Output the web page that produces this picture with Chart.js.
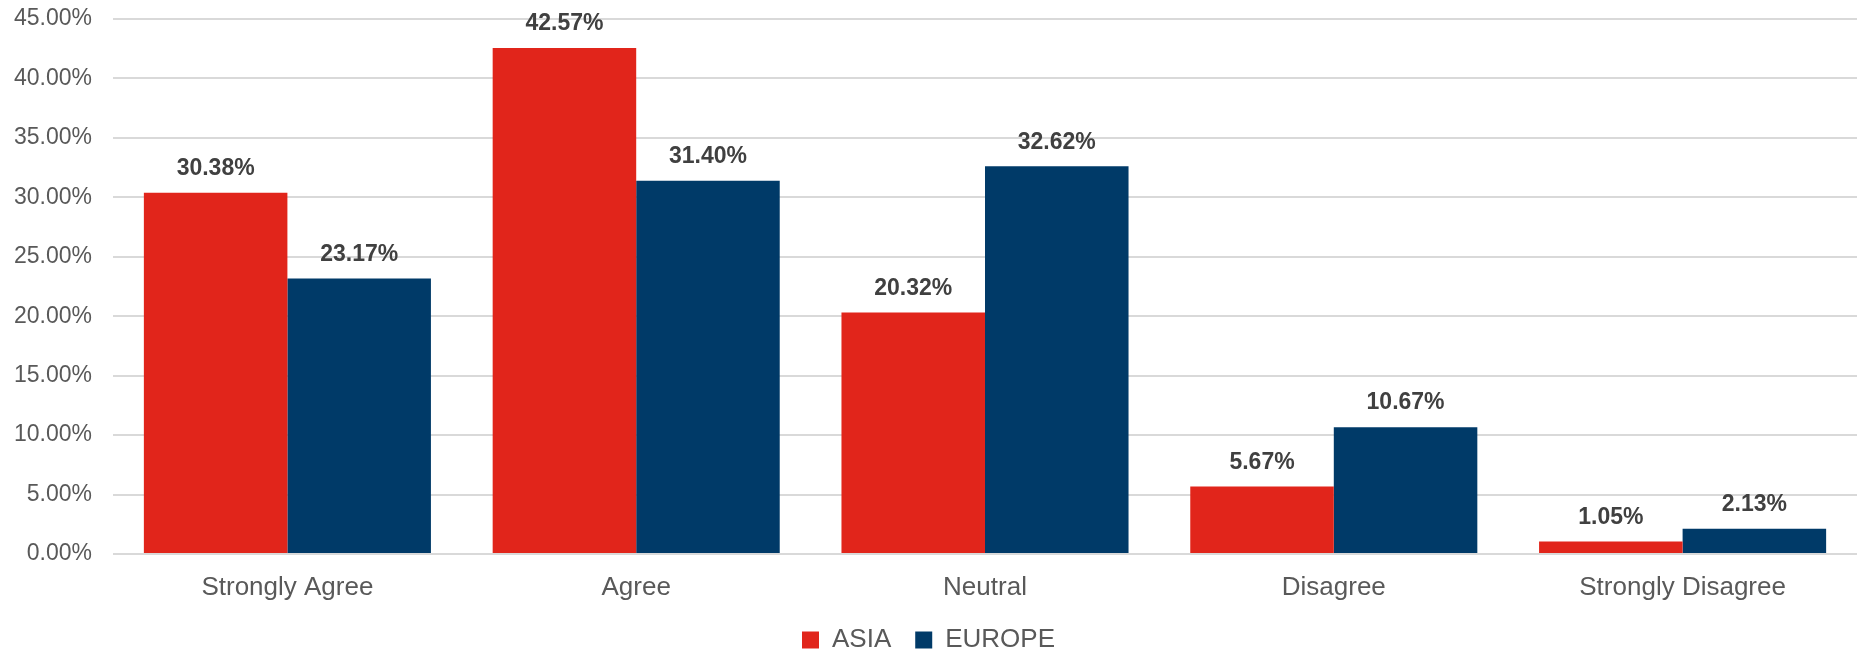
<!DOCTYPE html>
<html>
<head>
<meta charset="utf-8">
<script src="https://cdn.jsdelivr.net/npm/chart.js@4/dist/chart.umd.min.js"></script>
<style>
  html, body { margin: 0; padding: 0; background: #ffffff; }
  #wrap { width: 1861px; height: 654px; }
</style>
</head>
<body>
<div id="wrap"><canvas id="c" width="1861" height="654"></canvas></div>
<script>
const categories = ["Strongly Agree", "Agree", "Neutral", "Disagree", "Strongly Disagree"];
const asiaValues = [30.38, 42.57, 20.32, 5.67, 1.05];
const europeValues = [23.17, 31.40, 32.62, 10.67, 2.13];
const seriesNames = ["ASIA", "EUROPE"];
const yTickMax = 45;
const yTickStep = 5;

const FONT = "'Liberation Sans', Arial, sans-serif";

const valueLabels = {
  id: 'valueLabels',
  afterDatasetsDraw(chart) {
    const ctx = chart.ctx;
    ctx.save();
    ctx.font = "bold 23px " + FONT;
    ctx.fillStyle = "#404040";
    ctx.textAlign = "center";
    ctx.textBaseline = "middle";
    chart.data.datasets.forEach((ds, di) => {
      const meta = chart.getDatasetMeta(di);
      meta.data.forEach((bar, i) => {
        ctx.fillText(ds.data[i].toFixed(2) + "%", bar.x, bar.y - 24);
      });
    });
    ctx.restore();
  }
};

new Chart(document.getElementById('c'), {
  type: 'bar',
  data: {
    labels: categories,
    datasets: [
      { label: seriesNames[0], data: asiaValues, backgroundColor: '#E1251B', borderWidth: 0 },
      { label: seriesNames[1], data: europeValues, backgroundColor: '#003A68', borderWidth: 0 }
    ]
  },
  options: {
    responsive: false,
    animation: false,
    devicePixelRatio: 1,
    layout: { padding: { left: 0, right: 4, top: 19, bottom: -9 } },
    datasets: { bar: { categoryPercentage: 0.823, barPercentage: 1.0 } },
    scales: {
      x: {
        afterFit(scale) { scale.height = 49; },
        grid: { display: false, drawTicks: false },
        border: { display: false },
        ticks: { color: '#595959', font: { family: FONT, size: 26 }, padding: 18, maxRotation: 0 }
      },
      y: {
        min: 0, max: yTickMax,
        afterFit(scale) { scale.width = 113; scale.paddingTop = 0; scale.paddingBottom = 0; },
        grid: { color: '#d9d9d9', lineWidth: 2, drawTicks: false },
        border: { display: false },
        ticks: {
          stepSize: yTickStep,
          color: '#595959',
          font: { family: FONT, size: 23 },
          padding: 21,
          callback: v => Number(v).toFixed(2) + '%'
        }
      }
    },
    plugins: {
      legend: {
        position: 'bottom',
        labels: {
          color: '#595959',
          font: { family: FONT, size: 26 },
          boxWidth: 17, boxHeight: 17,
          padding: 24
        }
      },
      tooltip: { enabled: false }
    }
  },
  plugins: [valueLabels]
});
</script>
</body>
</html>
